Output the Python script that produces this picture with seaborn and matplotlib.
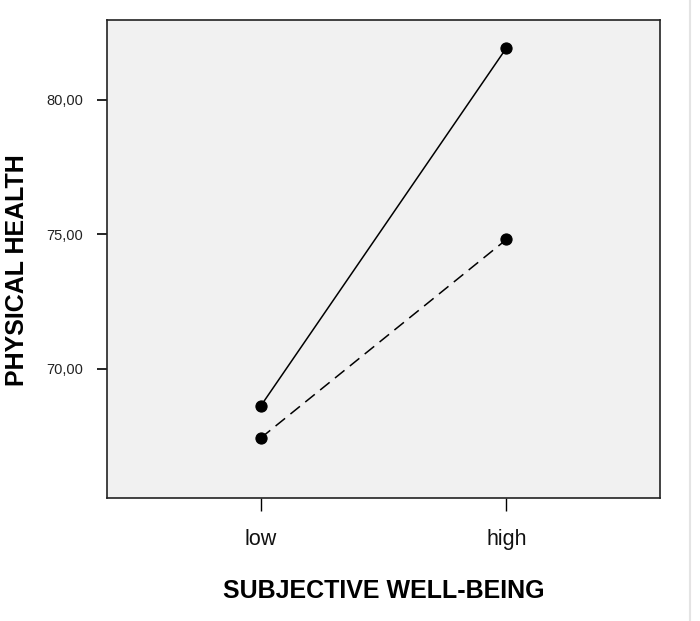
import matplotlib
matplotlib.use("Agg")
import matplotlib.pyplot as plt
import seaborn as sns
import pandas as pd
from matplotlib.lines import Line2D

levels = ["low", "high"]
solid_values = [68.62, 81.93]
dashed_values = [67.43, 74.81]
yticks = [70, 75, 80]
ytick_labels = ["70,00", "75,00", "80,00"]

df = pd.DataFrame({
    "wellbeing": levels * 2,
    "health": solid_values + dashed_values,
    "group": ["A"] * 2 + ["B"] * 2,
})

sns.set_style("white")
plt.rcParams["font.family"] = ["Liberation Sans", "DejaVu Sans"]

fig = plt.figure(figsize=(7.0, 6.21), dpi=100)
ax = fig.add_axes([0.153, 0.198, 0.79, 0.770])
ax.set_facecolor("#f1f1f1")

sns.pointplot(data=df, x="wellbeing", y="health", hue="group", order=levels,
              palette=["black", "black"], markers=["o", "o"],
              linestyles=["-", "--"], markersize=8, linewidth=1.1,
              ax=ax, legend=False, errorbar=None)

for ln in ax.lines:
    if ln.get_linestyle() == "--":
        ln.set_dashes([8, 4.5])

ax.set_xlim(-0.625, 1.625)
ax.set_ylim(65.2, 82.97)
ax.set_yticks(yticks)
ax.set_yticklabels(ytick_labels, fontsize=10.5, color="#222222")
ax.tick_params(axis="y", direction="out", length=7, width=1.2, color="black", left=True, pad=10)
ax.tick_params(axis="x", direction="out", length=9, width=1.0, color="black", bottom=True,
               labelsize=15.5, labelcolor="#111111", pad=13)

for s in ax.spines.values():
    s.set_color("#222222")
    s.set_linewidth(1.2)
    s.set_visible(True)

ax.set_xlabel("SUBJECTIVE WELL-BEING", fontsize=18, fontweight="bold", labelpad=21, color="black")
ax.set_ylabel("PHYSICAL HEALTH", fontsize=18, fontweight="bold", color="black")
ax.yaxis.set_label_coords(-0.141, 0.477)

fig.add_artist(Line2D([0.986, 0.986], [0.0, 1.0], color="#e4e4e4", linewidth=1.5, transform=fig.transFigure))

fig.savefig("out.png", dpi=100)
